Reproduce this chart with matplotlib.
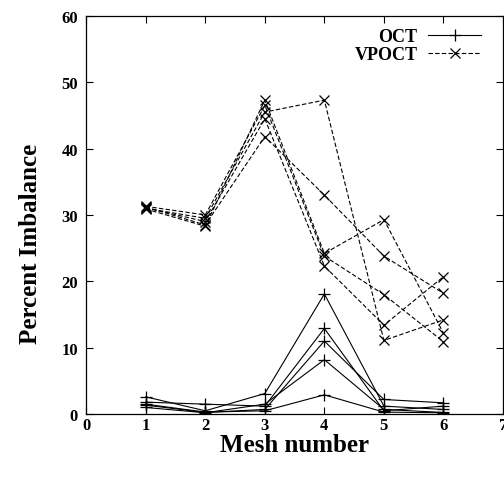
import matplotlib
matplotlib.use("Agg")
import matplotlib.pyplot as plt

plt.rcParams["font.family"] = ["Liberation Serif", "DejaVu Serif"]
plt.rcParams["font.weight"] = "bold"

# Mesh numbers on the x axis
mesh = [1, 2, 3, 4, 5, 6]

# OCT runs (solid, "+")
oct_runs = [
    [2.6, 0.5, 3.1, 18.1, 1.2, 0.7],
    [1.8, 1.5, 1.2, 12.9, 0.5, 1.2],
    [1.35, 0.25, 0.7, 11.0, 2.2, 1.7],
    [1.0, 0.2, 1.5, 8.2, 0.7, 0.25],
    [1.5, 0.3, 0.5, 2.9, 0.3, 0.2],
]

# VPOCT runs (dashed, "x")
vpoct_runs = [
    [31.2, 28.5, 41.8, 33.0, 23.8, 18.2],
    [31.0, 29.5, 45.5, 47.3, 11.1, 14.2],
    [30.9, 28.3, 47.3, 24.2, 29.3, 12.2],
    [31.3, 30.0, 46.5, 23.8, 18.0, 10.9],
    [31.1, 29.0, 44.5, 22.3, 13.4, 20.7],
]

fig = plt.figure(figsize=(5.04, 4.81), dpi=100)
ax = fig.add_axes([0.171, 0.137, 0.827, 0.828])

for i, run in enumerate(oct_runs):
    ax.plot(mesh, run, color="black", lw=0.8, marker="+", ms=8, mew=0.9,
            label="OCT" if i == 0 else None)
for i, run in enumerate(vpoct_runs):
    ax.plot(mesh, run, color="black", lw=0.8, ls=(0, (4, 2)), marker="x",
            ms=6.5, mew=0.9, label="VPOCT" if i == 0 else None)

ax.set_xlim(0, 7)
ax.set_ylim(0, 60)
ax.set_xticks(range(0, 8))
ax.set_yticks(range(0, 61, 10))
ax.tick_params(direction="in", length=5, width=0.8, top=True, right=True,
               labelsize=12)
ax.tick_params(axis="x", pad=2)
ax.tick_params(axis="y", pad=6)
for s in ax.spines.values():
    s.set_linewidth(0.9)

ax.set_xlabel("Mesh number", fontsize=18, fontweight="bold", labelpad=0)
ax.set_ylabel("Percent Imbalance", fontsize=18, fontweight="bold")
ax.yaxis.set_label_coords(-0.105, 0.43)

leg = ax.legend(loc="upper right", markerfirst=False, frameon=False,
                fontsize=13, handlelength=2.9, handletextpad=0.6,
                labelspacing=0.05, borderaxespad=0.3,
                bbox_to_anchor=(0.977, 1.0))

fig.savefig("out.png", dpi=100)
